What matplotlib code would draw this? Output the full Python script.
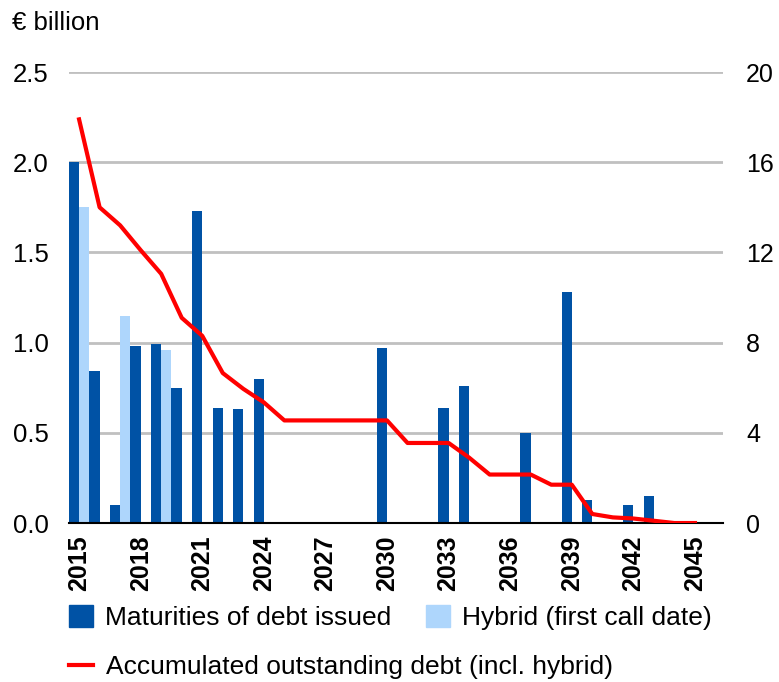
import matplotlib
matplotlib.use("Agg")
import matplotlib.pyplot as plt
import numpy as np
from matplotlib.patches import Patch
from matplotlib.lines import Line2D

plt.rcParams['font.family'] = ['Liberation Sans', 'DejaVu Sans']

# data
years = list(range(2015, 2046))
maturities = [2.00, 0.84, 0.10, 0.98, 0.99, 0.75, 1.73, 0.64, 0.63, 0.80,
              0, 0, 0, 0, 0, 0.97, 0, 0, 0.64, 0.76,
              0, 0, 0.50, 0, 1.28, 0.13, 0, 0.10, 0.15, 0, 0]
hybrid = [1.75, 0, 1.15, 0, 0.96, 0, 0, 0, 0, 0,
          0, 0, 0, 0, 0, 0, 0, 0, 0, 0,
          0, 0, 0, 0, 0, 0, 0, 0, 0, 0, 0]
accumulated = [17.9, 14.0, 13.2, 12.1, 11.05, 9.1, 8.3, 6.65, 5.95, 5.35,
               4.55, 4.55, 4.55, 4.55, 4.55, 4.55, 3.55, 3.55, 3.55, 2.9,
               2.15, 2.15, 2.15, 1.7, 1.7, 0.4, 0.25, 0.2, 0.1, 0, 0]
tick_years = list(range(2015, 2046, 3))

DARK = '#0052a5'
LIGHT = '#aed6fc'
RED = '#ff0000'
GRID = '#c0c0c0'

fig = plt.figure(figsize=(7.79, 6.82), dpi=100)
ax = fig.add_axes([0.0886, 0.2331, 0.8396, 0.6613])
ax2 = ax.twinx()

x = np.array(years)
ax.bar(x - 0.25, maturities, width=0.5, color=DARK, zorder=3)
ax.bar(x + 0.25, hybrid, width=0.5, color=LIGHT, zorder=3)

ax.set_xlim(2014.51, 2046.37)
ax.set_ylim(0, 2.5)
ax.set_yticks(np.arange(0, 2.51, 0.5))
ax.set_yticklabels([f"{v:.1f}" for v in np.arange(0, 2.51, 0.5)])
ax.grid(axis='y', color=GRID, linewidth=2, zorder=0)
ax.set_xticks(tick_years)
ax.set_xticklabels([str(y) for y in tick_years], rotation=90, fontweight='bold',
                   fontsize=18)
ax.tick_params(axis='x', length=0, pad=9)
ax.tick_params(axis='y', length=0, pad=14.5, labelsize=18.5)
for s in ['top', 'left', 'right']:
    ax.spines[s].set_visible(False)
ax.spines['bottom'].set_linewidth(1.5)
ax.spines['bottom'].set_zorder(5)

ax2.plot(x, accumulated, color=RED, linewidth=3, zorder=4)
ax2.set_ylim(0, 20)
ax2.set_yticks([0, 4, 8, 12, 16, 20])
ax2.tick_params(axis='y', length=0, pad=16.5, labelsize=18)
for s in ax2.spines.values():
    s.set_visible(False)

fig.text(0.016, 0.967, "€ billion", fontsize=18.5, ha='left', va='center')

h_bars = [Patch(color=DARK), Patch(color=LIGHT)]
fig.legend(h_bars, ["Maturities of debt issued", "Hybrid (first call date)"],
           ncol=2, loc='center left', bbox_to_anchor=(0.075, 0.095),
           frameon=False, fontsize=19, handlelength=0.9, handleheight=0.9,
           handletextpad=0.45, columnspacing=1.35, borderaxespad=0)
fig.legend([Line2D([0], [0], color=RED, linewidth=3)],
           ["Accumulated outstanding debt (incl. hybrid)"],
           loc='center left', bbox_to_anchor=(0.075, 0.022),
           frameon=False, fontsize=19, handlelength=0.9,
           handletextpad=0.5, borderaxespad=0)

fig.savefig("out.png", dpi=100)
